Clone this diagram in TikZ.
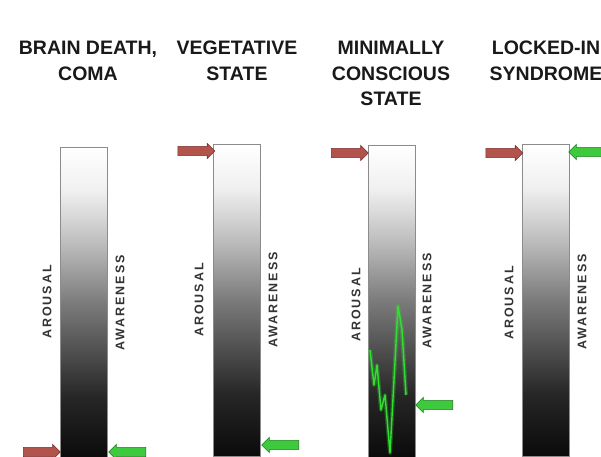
\documentclass[tikz,border=0pt]{standalone}
\usepackage{fontspec}
\setmainfont{Liberation Sans}
\usetikzlibrary{shapes.arrows}
\definecolor{arrowred}{HTML}{B3544C}
\definecolor{arrowredline}{HTML}{7A2E2A}
\definecolor{arrowgreen}{HTML}{3DCB3D}
\definecolor{arrowgreenline}{HTML}{1F7F1F}
\definecolor{wavegreen}{HTML}{2FE02F}
\pgfdeclareverticalshading{barshade}{100bp}{color(0bp)=(black); color(25bp)=(black!96); color(35bp)=(black!85); color(50bp)=(black!52); color(60bp)=(black!25); color(68bp)=(black!6); color(75bp)=(white); color(100bp)=(white)}
\tikzset{
    every node/.style={font=\bfseries},
    title/.style={align=center,inner sep=0pt,anchor=north,text=black!90,font=\fontsize{19.5}{25.5}\selectfont\bfseries},
    axislabel/.style={rotate=90,inner sep=0pt,text=black!80,font=\fontsize{12.5}{14}\selectfont\bfseries\addfontfeature{LetterSpace=16}},
    levelbar/.style={draw=black!45,line width=1.2pt,shade,shading=barshade,minimum width=47pt,minimum height=312pt,inner sep=0pt,anchor=north west},
    redarrow/.style={single arrow,draw=arrowredline,fill=arrowred,minimum height=37pt,inner sep=4.3pt,single arrow head extend=3pt,line width=0.6pt},
    greenarrow/.style={redarrow,shape border rotate=180,draw=arrowgreenline,fill=arrowgreen},
    wave/.style={wavegreen,line width=1.4pt,line join=round}
}
\begin{document}
\begin{tikzpicture}[x=1pt,y=-1pt]
\useasboundingbox (0,0) rectangle (601,456);
\foreach \i/\xl/\top in {1/60/147,2/213/144,3/368/145,4/522/144}{
    \node[levelbar] (bar\i) at (\xl,\top) {};
}
\foreach \i/\xa/\ya/\xw/\yw in {1/47/302/120/303,2/199/300/273/300,3/356/305/427/301,4/509/303/582/302}{
    \node[axislabel] (aro\i) at (\xa,\ya) {AROUSAL};
    \node[axislabel] (awa\i) at (\xw,\yw) {AWARENESS};
}
\node[title] (t1) at (88,41) {BRAIN DEATH,\\COMA};
\node[title] (t2) at (237,41) {VEGETATIVE\\STATE};
\node[title] (t3) at (391,41) {MINIMALLY\\CONSCIOUS\\STATE};
\node[title] (t4) at (546,41) {LOCKED-IN\\SYNDROME};
\foreach \i/\xr/\yr in {1/39.5/452,2/194/151,3/347.5/153,4/502/153}{
    \node[redarrow] (red\i) at (\xr,\yr) {};
}
\foreach \i/\xg/\yg in {1/129.5/452,2/282.5/445,3/436.5/405,4/589.5/152}{
    \node[greenarrow] (grn\i) at (\xg,\yg) {};
}
\draw[wave,line width=4pt,opacity=0.3] (370,350) -- (374,385) -- (377,365) -- (381,410) -- (385,395) -- (390,453) -- (394,380) -- (398,306) -- (402,330) -- (406,395);
\draw[wave] (370,350) -- (374,385) -- (377,365) -- (381,410) -- (385,395) -- (390,453) -- (394,380) -- (398,306) -- (402,330) -- (406,395);
\end{tikzpicture}
\end{document}
